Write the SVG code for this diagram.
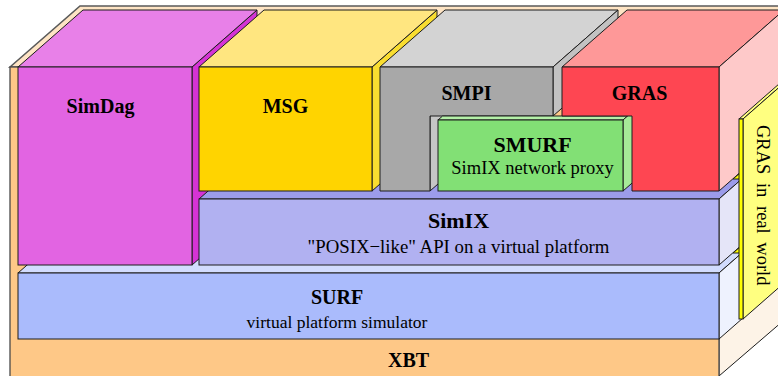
<svg xmlns="http://www.w3.org/2000/svg" width="778" height="376" viewBox="0 0 778 376">
<style>
.e{stroke:#1c1c1c;stroke-width:1;stroke-linejoin:miter}
.t{font-family:"Liberation Serif","Times New Roman",serif;fill:#000;text-anchor:middle}
.b{font-weight:bold}
</style>
<rect width="778" height="376" fill="#ffffff"/>
<g id="xbt">
<polygon class="e" points="719,67 790,6 790,315 719,376" fill="#fdf3e7"/>
<polygon points="10,67 80,6 790,6 719,67" fill="#fee4c4" stroke="#5a5a5a" stroke-width="1.6"/>
<rect x="10" y="67" width="709" height="312" fill="#fec887" stroke="#4a4a4a" stroke-width="1.3"/>
<text class="t b" x="408.5" y="367" font-size="20">XBT</text>
</g>
<g id="surf">
<polygon class="e" points="18,273 83,216 784,216 719,273" fill="#d2dcfe"/>
<polygon class="e" points="719,273 784,216 784,282 719,339" fill="#eef2fe"/>
<rect class="e" x="18" y="273" width="701" height="66" fill="#aabbfc"/>
<text class="t b" x="337" y="304" font-size="20">SURF</text>
<text class="t" x="337" y="328" font-size="17.5">virtual platform simulator</text>
</g>
<g id="simdag">
<polygon class="e" points="192,67 257,10 257,208 192,265" fill="#d533d5"/>
<polygon class="e" points="18,67 83,10 257,10 192,67" fill="#e880e8"/>
<rect class="e" x="18" y="67" width="174" height="198" fill="#e264e2"/>
<text class="t b" x="100.5" y="113" font-size="20">SimDag</text>
</g>
<g id="simix">
<polygon class="e" points="199,199 264,142 784,142 719,199" fill="#9c9cea"/>
<polygon class="e" points="719,199 784,142 784,208 719,265" fill="#e5e5f8"/>
<rect class="e" x="199" y="199" width="520" height="66" fill="#b1b1f1"/>
<text class="t b" x="458.5" y="228" font-size="22">SimIX</text>
<text class="t" x="458.5" y="253" font-size="18.8">"POSIX−like" API on a virtual platform</text>
</g>
<g id="msg">
<polygon class="e" points="372,67 437,10 437,134 372,191" fill="#f9dd30"/>
<polygon class="e" points="199,67 264,10 437,10 372,67" fill="#ffe680"/>
<rect class="e" x="199" y="67" width="173" height="124" fill="#ffd400"/>
<text class="t b" x="285.5" y="113" font-size="20">MSG</text>
</g>
<g id="smpi">
<polygon class="e" points="430,116 495,59 495,134 430,191" fill="#c6c6c6"/>
<polygon class="e" points="380,67 445,10 618,10 553,67" fill="#d3d3d3"/>
<polygon class="e" points="553,67 618,10 618,59 553,116" fill="#c2c2c2"/>
<polygon class="e" points="380,67 553,67 553,116 430,116 430,191 380,191" fill="#a8a8a8"/>
<text class="t b" x="466.5" y="100" font-size="20">SMPI</text>
</g>
<g id="smurf">
<polygon class="e" points="438,120 442.6,116 627.6,116 623,120" fill="#b4f0a8"/>
<polygon class="e" points="623,120 688,63 688,134 623,191" fill="#a6ea98"/>
<rect class="e" x="438" y="120" width="185" height="71" fill="#82e075"/>
<text class="t b" x="532.5" y="152" font-size="22">SMURF</text>
<text class="t" x="532.5" y="174" font-size="18.5">SimIX network proxy</text>
</g>
<g id="gras">
<polygon class="e" points="562,67 627,10 784,10 719,67" fill="#fe9898"/>
<polygon class="e" points="719,67 784,10 784,134 719,191" fill="#fec9c9"/>
<polygon class="e" points="562,67 719,67 719,191 632,191 632,116 562,116" fill="#fe4652"/>
<text class="t b" x="639.5" y="100" font-size="20">GRAS</text>
</g>
<g id="gras-real-world">
<polygon class="e" points="733,179 740,173 740,179" fill="#ffff00"/>
<polygon class="e" points="733,253 740,247 740,253" fill="#ffff00"/>
<polygon class="e" points="739,119 804,62 808,62 743,119" fill="#ffff80"/>
<polygon class="e" points="743,119 808,62 808,262 743,319" fill="#ffff80"/>
<rect class="e" x="739" y="119" width="4" height="200" fill="#ffff00"/>
<text x="757" y="125" transform="rotate(90 757 125)" font-family="Liberation Serif, Times New Roman, serif" font-size="18.5" word-spacing="4" fill="#000">GRAS in real world</text>
</g>
</svg>
